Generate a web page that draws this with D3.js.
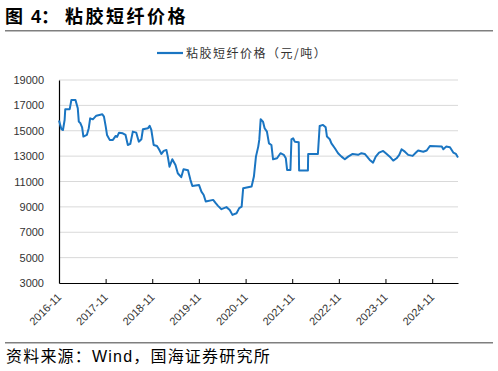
<!DOCTYPE html>
<html><head><meta charset="utf-8">
<script src="https://cdn.jsdelivr.net/npm/d3@7"></script>
<style>
body{margin:0;background:#fff;}
svg{display:block;font-family:"Liberation Sans",Arial,sans-serif;}
</style></head>
<body>
<svg id="c" width="498" height="371"></svg>
<script>
const dates = ["2016-11-01","2016-11-20","2016-12-02","2016-12-15","2016-12-20","2017-01-24","2017-02-06","2017-03-10","2017-03-28","2017-04-05","2017-04-18","2017-05-01","2017-05-11","2017-06-07","2017-06-22","2017-07-03","2017-07-24","2017-08-20","2017-10-06","2017-10-19","2017-11-02","2017-11-12","2017-12-03","2017-12-28","2018-01-19","2018-01-30","2018-02-14","2018-03-15","2018-04-06","2018-04-24","2018-05-13","2018-06-02","2018-06-29","2018-07-19","2018-08-08","2018-08-20","2018-09-29","2018-10-12","2018-10-25","2018-11-12","2018-12-08","2018-12-24","2019-01-12","2019-01-30","2019-02-20","2019-03-03","2019-03-16","2019-04-07","2019-05-02","2019-05-20","2019-06-16","2019-07-04","2019-08-08","2019-08-27","2019-09-11","2019-11-02","2019-11-21","2019-12-09","2019-12-25","2020-02-21","2020-03-12","2020-03-30","2020-04-26","2020-06-04","2020-06-30","2020-07-21","2020-08-22","2020-09-12","2020-10-01","2020-10-13","2020-12-18","2021-01-05","2021-01-21","2021-02-08","2021-02-16","2021-02-27","2021-03-17","2021-03-30","2021-04-17","2021-05-03","2021-05-22","2021-06-04","2021-07-05","2021-08-01","2021-08-27","2021-09-12","2021-09-22","2021-10-18","2021-10-26","2021-11-08","2021-11-21","2021-12-22","2021-12-25","2022-03-04","2022-03-06","2022-05-21","2022-06-04","2022-06-30","2022-07-21","2022-07-31","2022-08-22","2022-09-04","2022-10-01","2022-10-26","2022-11-22","2022-12-18","2023-01-13","2023-02-17","2023-04-01","2023-04-27","2023-05-23","2023-06-10","2023-07-01","2023-07-27","2023-08-17","2023-09-12","2023-10-14","2023-11-04","2023-12-05","2024-01-01","2024-01-27","2024-02-17","2024-03-06","2024-04-01","2024-04-27","2024-06-01","2024-06-27","2024-07-14","2024-08-23","2024-09-19","2024-10-14","2025-01-15","2025-01-27","2025-02-18","2025-03-20","2025-04-15","2025-05-06","2025-05-22"];
const prices = [15800,15120,15060,15850,16690,16700,17430,17430,16770,15720,15590,15270,14540,14670,15200,15980,15900,16190,16300,16110,15320,14670,14280,14280,14590,14520,14850,14800,14670,13880,13960,14930,14850,14140,14330,15120,15200,15380,15060,13880,13800,13540,13170,13410,13490,12960,12170,12750,12300,11650,11340,11970,11890,11130,10650,10730,10200,9940,9420,9550,9290,9080,8820,8980,8760,8370,8500,8900,9020,10470,10600,11390,12960,13750,14280,15900,15720,15200,14930,14010,13880,12750,12830,13230,13100,12830,11910,11910,14330,14410,14140,14090,11860,11860,13170,13170,15380,15460,15270,14540,14330,14010,13620,13230,12960,12750,12960,13170,13100,13230,13170,12960,12700,12490,12960,13280,13410,13230,12960,12650,12830,13100,13540,13350,13100,13020,13280,13440,13350,13440,13800,13750,13540,13750,13700,13280,13170,12900];
const yTicks = [3000,5000,7000,9000,11000,13000,15000,17000,19000];
const xTickLabels = ["2016-11","2017-11","2018-11","2019-11","2020-11","2021-11","2022-11","2023-11","2024-11"];
const seriesName = "粘胶短纤价格（元/吨）";
const titleFig = "图";
const titleNum = "4：";
const titleText = "粘胶短纤价格";
const sourceText = "资料来源：Wind，国海证券研究所";

const parse = d3.timeParse("%Y-%m-%d");
const parseM = d3.timeParse("%Y-%m");
const data = dates.map((d,i)=>({d:parse(d), v:prices[i]}));

const svg = d3.select("#c");
const x = d3.scaleTime().domain([parse(dates[0]), parse(dates[dates.length-1])]).range([59, 458]);
const y = d3.scaleLinear().domain([3000,19000]).range([283, 80]);
const mixFont = "'Liberation Sans','Noto Sans CJK SC',sans-serif";

// title
svg.append("text").attr("x",5).attr("y",23).attr("font-size",18).attr("font-weight","bold")
  .attr("font-family","'Noto Sans CJK SC',sans-serif").attr("fill","#000").text(titleFig);
svg.append("text").attr("x",31).attr("y",23).attr("font-size",18).attr("font-weight","bold")
  .attr("font-family",mixFont).attr("fill","#000").text(titleNum);
svg.append("text").attr("x",65).attr("y",23).attr("font-size",18).attr("font-weight","bold")
  .attr("letter-spacing","2.5px")
  .attr("font-family","'Noto Sans CJK SC',sans-serif").attr("fill","#000").text(titleText);
svg.append("line").attr("x1",5).attr("x2",493).attr("y1",30.8).attr("y2",30.8)
  .attr("stroke","#7f7f7f").attr("stroke-width",1.4);

// legend
svg.append("line").attr("x1",157).attr("x2",183).attr("y1",53).attr("y2",53)
  .attr("stroke","#1a75c2").attr("stroke-width",2.2);
svg.append("text").attr("x",186).attr("y",57.5).attr("font-size",12).attr("letter-spacing","1.5px")
  .attr("font-family","'Noto Sans CJK SC',sans-serif").attr("fill","#333").text(seriesName);

// gridlines
svg.append("g").selectAll("line").data(yTicks.filter(t=>t>3000)).join("line")
  .attr("x1",59).attr("x2",458).attr("y1",d=>y(d)).attr("y2",d=>y(d))
  .attr("stroke","#d9d9d9").attr("stroke-width",1);

// y axis
const ya = svg.append("g").attr("transform","translate(59,0)")
  .call(d3.axisLeft(y).tickValues(yTicks).tickSize(0).tickPadding(15).tickFormat(d3.format("d")));
ya.select(".domain").attr("stroke","#000").attr("stroke-width",1.2);
ya.selectAll("text").attr("font-size",11).attr("fill","#333").attr("font-family","'Liberation Sans',Arial,sans-serif");

// x axis
const xa = svg.append("g").attr("transform","translate(0,283)")
  .call(d3.axisBottom(x).tickValues(xTickLabels.map(parseM)).tickSizeInner(-4).tickSizeOuter(0).tickFormat(""));
xa.select(".domain").attr("stroke","#000").attr("stroke-width",1.2);
xa.selectAll(".tick line").attr("stroke","#000");
svg.append("g").selectAll("text").data(xTickLabels).join("text")
  .attr("transform",d=>`translate(${x(parseM(d))+3},298) rotate(-45)`)
  .attr("text-anchor","end").attr("font-size",11).attr("fill","#333")
  .attr("font-family","'Liberation Sans',Arial,sans-serif").text(d=>d);

// line
svg.append("path").datum(data).attr("fill","none").attr("stroke","#1a75c2").attr("stroke-width",2)
  .attr("stroke-linejoin","round")
  .attr("d", d3.line().x(d=>x(d.d)).y(d=>y(d.v)));

// footer
svg.append("line").attr("x1",5).attr("x2",493).attr("y1",342.7).attr("y2",342.7)
  .attr("stroke","#7f7f7f").attr("stroke-width",1.4);
svg.append("text").attr("x",6).attr("y",362).attr("font-size",16).attr("letter-spacing","1.2px")
  .attr("font-family",mixFont).attr("fill","#000").text(sourceText);
</script>
</body></html>
